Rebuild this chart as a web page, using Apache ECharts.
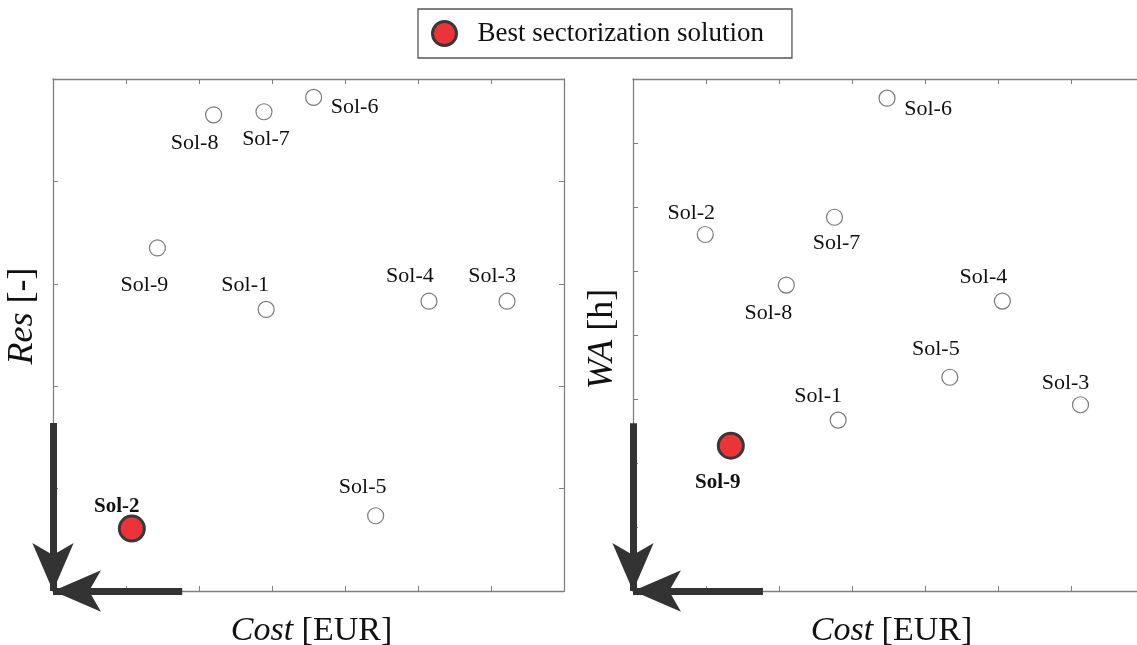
<!DOCTYPE html>
<html>
<head>
<meta charset="utf-8">
<script src="https://cdn.jsdelivr.net/npm/echarts@6/dist/echarts.min.js"></script>
<style>
  html, body { margin: 0; padding: 0; background: #ffffff; }
  #chart { width: 1137px; height: 645px; }
</style>
</head>
<body>
<div id="chart"></div>
<script>
// ---------- DATA ----------
const solNames   = ['Sol-1', 'Sol-2', 'Sol-3', 'Sol-4', 'Sol-5', 'Sol-6', 'Sol-7', 'Sol-8', 'Sol-9'];
// Left panel: Cost vs Res
const costLeft   = [2.92, 1.08, 6.22, 5.15, 4.42, 3.57, 2.89, 2.20, 1.43];
const resValues  = [2.75, 0.61, 2.83, 2.83, 0.735, 4.82, 4.68, 4.65, 3.35];
// Right panel: Cost vs WA
const costRight  = [2.81, 0.99, 6.13, 5.06, 4.34, 3.48, 2.76, 2.10, 1.34];
const waValues   = [2.67, 5.57, 2.91, 4.53, 3.34, 7.70, 5.84, 4.78, 2.27];
const bestLeft   = 'Sol-2';
const bestRight  = 'Sol-9';
const legendLabel = 'Best sectorization solution';
// Arrow extents (axis units) along each axis
const arrowLeftY = 1.64, arrowLeftX = 1.77;
const arrowRightY = 2.62, arrowRightX = 1.78;

// ---------- LAYOUT (label offsets in px, not data) ----------
const offsLeft = {
  'Sol-1': [-21, -24], 'Sol-2': [-15, -22], 'Sol-3': [-15, -25], 'Sol-4': [-19, -25],
  'Sol-5': [-13, -29], 'Sol-6': [41, 10], 'Sol-7': [2, 27], 'Sol-8': [-19, 28], 'Sol-9': [-13, 37]
};
const offsRight = {
  'Sol-1': [-20, -24], 'Sol-2': [-14, -21], 'Sol-3': [-15, -22], 'Sol-4': [-19, -24],
  'Sol-5': [-14, -28], 'Sol-6': [41, 11], 'Sol-7': [2, 26], 'Sol-8': [-18, 28], 'Sol-9': [-13, 37]
};

const FONT = 'Liberation Serif, Times New Roman, serif';
const AXIS_COLOR = '#808080';
const TEXT_COLOR = '#111111';
const ARROW_COLOR = '#333333';

function makePoints(xs, ys, offs, filterFn) {
  const out = [];
  solNames.forEach((n, i) => {
    if (!filterFn(n)) return;
    out.push({
      name: n,
      value: [xs[i], ys[i]],
      label: { offset: offs[n] }
    });
  });
  return out;
}

function xAx(gridIndex, pos, withName) {
  const a = {
    type: 'value', gridIndex: gridIndex, position: pos,
    min: 0, max: 7, interval: 1,
    axisLine: { show: true, onZero: false, lineStyle: { color: AXIS_COLOR, width: 1.3 } },
    axisTick: { show: true, inside: true, length: 5, lineStyle: { color: AXIS_COLOR, width: 1 } },
    axisLabel: { show: false },
    splitLine: { show: false }
  };
  if (withName) {
    a.name = '{i|Cost} [EUR]';
    a.nameLocation = 'middle';
    a.nameGap = 23;
    a.nameTextStyle = {
      fontFamily: FONT, fontSize: 34, color: TEXT_COLOR, verticalAlign: 'top',
      padding: [0, 0, 0, 6],
      rich: { i: { fontFamily: FONT, fontSize: 34, fontStyle: 'italic', color: TEXT_COLOR } }
    };
  }
  return a;
}
function yAx(gridIndex, pos, max, name, pad) {
  const a = {
    type: 'value', gridIndex: gridIndex, position: pos,
    min: 0, max: max, interval: 1,
    axisLine: { show: true, onZero: false, lineStyle: { color: AXIS_COLOR, width: 1.3 } },
    axisTick: { show: true, inside: true, length: 5, lineStyle: { color: AXIS_COLOR, width: 1 } },
    axisLabel: { show: false },
    splitLine: { show: false }
  };
  if (name) {
    a.name = name;
    a.nameLocation = 'middle';
    a.nameGap = 12;
    a.nameTextStyle = {
      fontFamily: FONT, fontSize: 36, color: TEXT_COLOR,
      padding: pad,
      rich: { i: { fontFamily: FONT, fontSize: 36, fontStyle: 'italic', color: TEXT_COLOR } }
    };
  }
  return a;
}

const normalStyle = {
  symbol: 'circle', symbolSize: 16,
  itemStyle: { color: '#ffffff', borderColor: '#7a7a7a', borderWidth: 1.2, opacity: 1 },
  label: { show: true, position: 'inside', formatter: '{b}', fontFamily: FONT, fontSize: 22, color: TEXT_COLOR, align: 'center', verticalAlign: 'middle' }
};
const bestStyle = {
  symbol: 'circle', symbolSize: 25,
  itemStyle: { color: '#ec3338', borderColor: '#383838', borderWidth: 3, opacity: 1 },
  label: { show: true, position: 'inside', formatter: '{b}', fontFamily: FONT, fontSize: 21, fontWeight: 'bold', color: TEXT_COLOR, align: 'center', verticalAlign: 'middle' }
};

function arrowShafts(ly, lx) {
  return {
    silent: true,
    symbol: ['none', 'none'],
    label: { show: false },
    lineStyle: { color: ARROW_COLOR, width: 7, type: 'solid', opacity: 1 },
    emphasis: { disabled: true },
    data: [
      [{ coord: [0, ly] }, { coord: [0, 0] }],
      [{ coord: [lx, 0] }, { coord: [0, 0] }]
    ]
  };
}
function arrowHeads() {
  return {
    silent: true,
    symbol: 'arrow',
    symbolSize: [31, 48],
    label: { show: false },
    itemStyle: { color: ARROW_COLOR, opacity: 1 },
    emphasis: { disabled: true },
    data: [
      { coord: [0, 0], symbolRotate: 180, symbolOffset: [0, 0] },
      { coord: [0, 0], symbolRotate: 90, symbolOffset: [0, 0] }
    ]
  };
}

function scatterSeries(xIdx, yIdx, xs, ys, offs, best, ly, lx) {
  const s1 = Object.assign({
    type: 'scatter', name: 'solutions', xAxisIndex: xIdx, yAxisIndex: yIdx, clip: false, z: 3,
    data: makePoints(xs, ys, offs, n => n !== best)
  }, normalStyle);
  const s2 = Object.assign({
    type: 'scatter', name: legendLabel, xAxisIndex: xIdx, yAxisIndex: yIdx, clip: false, z: 4,
    data: makePoints(xs, ys, offs, n => n === best)
  }, bestStyle);
  s1.markLine = arrowShafts(ly, lx);
  s1.markPoint = arrowHeads();
  return [s1, s2];
}

const chart = echarts.init(document.getElementById('chart'), null, { renderer: 'canvas' });
const option = {
  backgroundColor: '#ffffff',
  animation: false,
  legend: {
    data: [legendLabel],
    left: 418, top: 9,
    padding: [11, 28, 11, 13],
    borderColor: '#555555', borderWidth: 1.3,
    itemWidth: 24, itemHeight: 24,
    itemStyle: { color: '#ec3338', borderColor: '#383838', borderWidth: 3, opacity: 1 },
    textStyle: { fontFamily: FONT, fontSize: 27, color: TEXT_COLOR, padding: [0, 0, 0, 16] },
    selectedMode: false
  },
  grid: [
    { left: 53, top: 79, width: 511, height: 512, containLabel: false, outerBoundsMode: 'none' },
    { left: 633, top: 79, width: 511, height: 512, containLabel: false, outerBoundsMode: 'none' }
  ],
  xAxis: [
    xAx(0, 'bottom', true),
    xAx(0, 'top', false),
    xAx(1, 'bottom', true),
    xAx(1, 'top', false)
  ],
  yAxis: [
    yAx(0, 'left', 5, '{i|Res} [-]', [0, 0, 0, 38]),
    yAx(0, 'right', 5, null),
    yAx(1, 'left', 8, '{i|WA} [h]', [0, 8, 0, 0]),
    yAx(1, 'right', 8, null)
  ],
  series: [].concat(
    scatterSeries(0, 0, costLeft, resValues, offsLeft, bestLeft, arrowLeftY, arrowLeftX),
    scatterSeries(2, 2, costRight, waValues, offsRight, bestRight, arrowRightY, arrowRightX)
  )
};
chart.setOption(option);
</script>
</body>
</html>
